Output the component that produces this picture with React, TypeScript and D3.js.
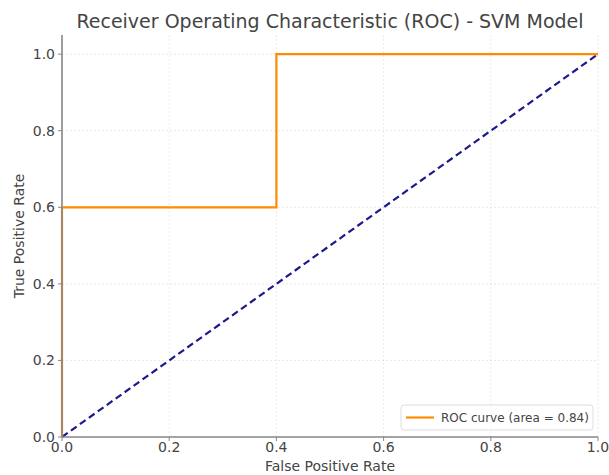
import React from 'react'
import * as d3 from 'd3'

const fpr = [0, 0, 0.4, 0.4, 1]
const tpr = [0, 0.6, 0.6, 1, 1]
const chanceX = [0, 1]
const chanceY = [0, 1]
const ticks = [0, 0.2, 0.4, 0.6, 0.8, 1.0]
const legendLabel = 'ROC curve (area = 0.84)'

const W = 609
const H = 475
const margin = { left: 62, right: 11, top: 35, bottom: 38 }

export default function App() {
  const x = d3.scaleLinear().domain([0, 1]).range([margin.left, W - margin.right])
  const y = d3.scaleLinear().domain([0, 1.05]).range([H - margin.bottom, margin.top])

  const rocLine = d3.line<number>()
    .x((d, i) => x(fpr[i]))
    .y((d, i) => y(tpr[i]))
    .curve(d3.curveLinear)
  const chanceLine = d3.line<number>()
    .x((d, i) => x(chanceX[i]))
    .y((d, i) => y(chanceY[i]))

  const font = 'DejaVu Sans, sans-serif'
  const textColor = '#444'
  const x0 = x(0), x1 = x(1)
  const yb = y(0), yt = y(1.05)

  return (
    <div style={{ position: 'absolute', left: 0, top: 0 }}>
      <svg width={W} height={H} style={{ display: 'block', background: '#fff' }} fontFamily={font}>
        {/* grid */}
        <g stroke="#b0b0b0" strokeOpacity={0.35} strokeWidth={0.8} strokeDasharray="2,2">
          {ticks.map(t => (
            <line key={'gx' + t} x1={x(t)} x2={x(t)} y1={yb} y2={yt} />
          ))}
          {ticks.map(t => (
            <line key={'gy' + t} x1={x0} x2={x1} y1={y(t)} y2={y(t)} />
          ))}
        </g>

        {/* chance line */}
        <path d={chanceLine(chanceX) || ''} fill="none" stroke="#1a1a8c" strokeWidth={2.2} strokeDasharray="7,4" />
        {/* roc */}
        <path d={rocLine(fpr) || ''} fill="none" stroke="#ff8c00" strokeWidth={2.2} />

        {/* spines */}
        <line x1={x0} x2={x0} y1={yb} y2={yt} stroke="#888" strokeWidth={1.6} />
        <line x1={x0} x2={x1} y1={yb} y2={yb} stroke="#888" strokeWidth={1.6} />

        {/* x ticks */}
        {ticks.map(t => (
          <g key={'xt' + t}>
            <line x1={x(t)} x2={x(t)} y1={yb} y2={yb + 4} stroke="#888" strokeWidth={1} />
            <text x={x(t)} y={yb + 15} textAnchor="middle" fontSize={14} fill={textColor}>
              {t.toFixed(1)}
            </text>
          </g>
        ))}
        {/* y ticks */}
        {ticks.map(t => (
          <g key={'yt' + t}>
            <line x1={x0 - 4} x2={x0} y1={y(t)} y2={y(t)} stroke="#888" strokeWidth={1} />
            <text x={x0 - 7} y={y(t) + 5} textAnchor="end" fontSize={14} fill={textColor}>
              {t.toFixed(1)}
            </text>
          </g>
        ))}

        {/* labels */}
        <text x={(x0 + x1) / 2} y={H - 4} textAnchor="middle" fontSize={14} fill={textColor}>
          False Positive Rate
        </text>
        <text
          transform={`translate(24,${(yb + yt) / 2}) rotate(-90)`}
          textAnchor="middle"
          fontSize={14}
          fill={textColor}
        >
          True Positive Rate
        </text>
        <text x={(x0 + x1) / 2} y={28} textAnchor="middle" fontSize={19} fill={textColor}>
          Receiver Operating Characteristic (ROC) - SVM Model
        </text>

        {/* legend */}
        <g transform={`translate(${x1 - 197},${yb - 32})`}>
          <rect x={0} y={0} width={192} height={25} rx={3} fill="#fff" fillOpacity={0.85} stroke="#ddd" />
          <line x1={5} x2={33} y1={12.5} y2={12.5} stroke="#ff8c00" strokeWidth={2.2} />
          <text x={40} y={17} fontSize={12} fill={textColor}>{legendLabel}</text>
        </g>
      </svg>
    </div>
  )
}
